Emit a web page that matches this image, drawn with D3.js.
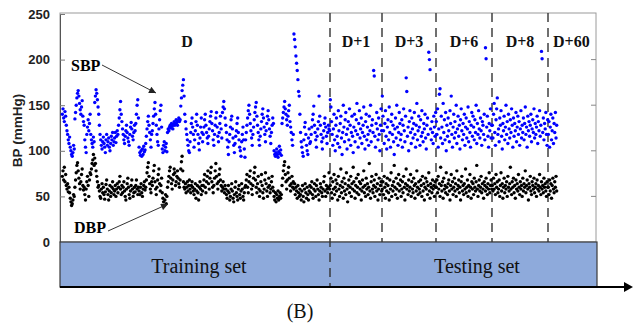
<!DOCTYPE html>
<html>
<head>
<meta charset="utf-8">
<script src="https://cdn.jsdelivr.net/npm/d3@7/dist/d3.min.js"></script>
<style>
  body { margin: 0; background: #fff; }
  svg { display: block; }
</style>
</head>
<body>
<div id="chart"></div>
<script>
// recording sessions (training = D, testing = the rest)
const sessions = ["D", "D+1", "D+3", "D+6", "D+8", "D+60"];
const yTicks = [0, 50, 100, 150, 200, 250];

// systolic BP per session, mmHg
const sbpD = [140,146,136,132,143,138,
  128,122,118,112,108,115,104,100,96,94,98,106,102,
  135,142,150,158,163,166,160,152,145,140,148,155,138,132,128,
  112,104,98,118,126,134,122,130,140,
  118,112,108,104,115,110,
  153,160,167,163,156,148,
  140,128,118,112,106,102,110,115,108,104,98,112,118,106,110,114,104,100,108,116,112,120,106,110,
  114,120,109,116,122,118,
  128,136,145,154,140,132,
  124,118,112,108,116,122,128,120,114,110,106,118,126,131,124,116,112,120,128,122,
  130,140,150,156,136,
  104,98,95,100,94,102,96,105,99,101,
  108,116,124,132,138,128,120,112,104,118,
  122,130,138,146,153,140,128,118,110,106,124,134,144,150,126,
  102,98,106,110,100,104,108,99,
  120,124,122,126,128,125,130,127,124,129,132,128,130,134,131,128,133,136,132,134,
  149,158,166,172,178,160,
  140,132,124,118,112,106,100,98,110,120,130,136,126,118,
  104,112,122,132,140,128,118,108,101,114,126,136,120,
  110,118,126,134,140,128,120,114,108,116,124,132,138,143,130,122,112,106,118,128,136,142,126,116,110,120,130,138,124,114,
  142,148,154,146,136,
  128,120,112,104,96,110,118,126,134,138,124,114,106,98,108,116,122,130,136,120,112,104,100,94,110,118,126,112,102,93,
  112,120,128,136,144,150,140,130,122,114,106,118,126,134,142,148,153,138,128,120,112,106,116,124,132,140,146,136,126,118,110,122,130,138,144,134,124,116,108,120,128,136,130,
  100,96,94,98,102,96,93,99,105,97,101,95,
  130,136,142,148,154,146,140,134,128,138,144,150,132,126,120,112,106,118,
  228,222,214,204,196,188,178,165,160,140,
  120,110,104,98,94,112,126,131,118,106,100,96,114,124,108,
  110,118,126,134,140,149,128,120,112,104,116,124,132,160,138,128,118,110,102,114,122,130,136,126,116,108,120,128,124,122];
const sbpD1 = [156,148,132,118,106,124,140,112,100,128,
  136,116,108,144,122,104,130,138,114,96,
  120,150,126,110,134,142,118,102,124,132,
  112,146,128,106,120,138,116,98,126,140,
  110,122,134,152,118,104,130,144,114,124,
  136,108,120,128,148,116,102,132,140,112,
  126,118,106,138,122,150,110,128,134,120,
  188,182,116,104,130,142,124,112,136,118,
  100,128,146,122];
const sbpD3 = [160,138,122,108,130,144,116,102,126,134,
  112,148,120,104,132,140,118,128,110,96,
  124,136,114,150,126,106,120,142,130,112,
  118,134,104,128,146,122,110,138,180,165,
  116,126,100,132,144,120,108,136,124,114,
  130,142,118,104,128,152,112,122,138,126,
  106,134,116,144,120,110,130,124,140,114,
  102,128,136,118,208,200,189,124,112,132,
  120,108,138,126,116,142];
const sbpD6 = [132,118,146,104,124,162,168,114,138,126,
  108,152,120,134,112,142,100,128,116,136,
  122,110,144,130,160,118,104,126,140,114,
  132,120,150,108,124,138,116,128,102,134,
  146,122,112,130,118,140,106,126,136,114,
  124,148,110,132,120,104,128,142,116,138,
  126,112,134,120,150,108,130,118,144,124,
  114,136,122,106,132,128,118,140,112,213,
  201,126,138,116,104,130,122,146,114,128];
const sbpD8 = [128,114,140,152,120,106,134,146,158,118,
  124,110,136,128,144,116,102,130,122,138,
  112,126,150,118,132,108,140,124,114,134,
  120,146,128,104,136,116,130,122,142,110,
  126,138,118,132,106,124,144,114,128,120,
  136,112,130,148,118,126,104,138,122,132,
  116,128,140,110,124,134,120,146,114,130,
  118,126,138,108,132,122,144,116,128,209,
  201,120,136,112,130,124,142,118,106,134];
const sbpD60 = [118,132,104,126,140,112,122,136,108,130,120,142,114,128];

// diastolic BP per session, mmHg
const dbpD = [72,78,68,82,66,74,
  62,58,64,55,60,54,48,44,40,42,46,52,50,
  60,68,76,84,87,78,70,64,58,66,74,80,62,57,60,
  52,46,58,66,72,62,50,68,76,
  74,80,86,90,96,84,
  92,86,78,72,66,60,
  62,56,50,48,58,64,54,60,52,47,55,63,68,58,52,46,56,62,50,54,60,66,58,52,
  56,62,50,58,64,54,
  60,66,72,58,52,62,
  54,60,66,56,50,46,58,64,70,60,52,48,56,62,68,58,50,54,60,55,
  62,68,58,52,60,
  56,52,60,64,54,50,58,62,66,57,
  60,68,76,82,87,72,64,58,54,66,
  62,70,78,84,66,58,52,60,68,74,80,64,56,62,70,
  54,48,44,40,46,52,42,50,
  60,66,72,78,82,70,64,58,68,74,80,76,62,66,72,78,70,64,60,68,
  80,88,94,78,66,60,
  58,64,54,60,66,56,62,68,58,54,62,66,60,56,
  52,58,64,48,56,62,54,46,60,66,58,52,62,
  56,62,68,74,60,54,66,72,78,64,58,70,76,82,66,60,54,62,70,78,86,72,64,58,66,74,80,68,62,56,
  60,66,58,54,62,
  58,52,48,56,62,54,46,50,58,64,56,48,44,52,60,66,54,50,46,58,62,52,48,56,64,58,50,46,54,60,
  62,68,74,60,54,66,72,78,64,58,52,62,70,76,82,68,60,54,64,72,58,50,56,66,74,62,54,48,58,68,76,64,56,50,60,70,62,54,58,66,72,60,56,
  50,46,54,44,52,48,56,46,50,54,48,52,
  62,70,78,84,88,74,66,58,68,76,82,70,62,56,64,72,60,66,
  58,64,52,60,56,48,62,54,50,58,
  52,46,56,62,50,44,58,64,54,48,60,52,46,56,62,
  54,60,66,52,48,58,64,56,50,62,68,58,52,46,56,64,60,54,50,58,66,72,56,50,62,58,54,60,76,58];
const dbpD1 = [62,70,54,48,66,58,74,52,60,68,
  56,64,46,72,58,50,62,80,54,66,
  60,48,70,56,64,52,76,58,44,62,
  68,54,60,72,50,64,58,82,66,56,
  48,62,70,54,60,74,52,66,58,64,
  46,56,68,60,78,54,62,50,70,58,
  64,52,60,86,56,48,66,72,58,54,
  62,68,50,60,74,56,64,46,58,70,
  52,62,66,56];
const dbpD3 = [58,66,52,72,60,48,64,56,70,62,
  54,46,68,58,76,50,62,56,66,84,
  60,52,70,58,48,64,74,56,62,68,
  50,58,66,54,72,60,46,64,80,58,
  62,52,68,56,60,74,50,66,58,54,
  70,62,48,64,56,78,60,52,66,58,
  54,68,62,50,72,56,64,46,60,70,
  58,66,52,62,76,56,48,64,60,54,
  68,58,62,50,66,60];
const dbpD6 = [60,68,54,72,58,64,50,82,62,56,
  66,48,70,58,62,54,76,60,52,64,
  68,56,46,62,74,58,66,52,60,70,
  56,64,50,78,58,62,68,54,60,46,
  66,72,56,62,52,64,58,80,54,60,
  68,50,62,56,74,60,48,66,58,64,
  52,70,60,56,66,84,58,50,62,68,
  56,60,72,54,64,58,48,66,62,56,
  70,60,52,64,58,76,54,62,68,58];
const dbpD8 = [62,56,70,58,64,52,74,60,66,54,
  58,68,50,62,76,56,64,48,60,70,
  54,62,58,66,50,72,60,56,64,82,
  58,52,66,60,70,54,62,48,68,58,
  64,56,74,60,52,66,58,62,50,70,
  56,64,60,78,54,62,68,58,46,64,
  60,72,56,52,66,62,58,70,54,60,
  64,50,68,58,62,56,74,60,52,66,
  58,62,54,70,60,64,56,50,66,60];
const dbpD60 = [60,52,68,56,64,48,62,70,58,54,66,60,72,56];

const sbpSessions = [sbpD, sbpD1, sbpD3, sbpD6, sbpD8, sbpD60];
const dbpSessions = [dbpD, dbpD1, dbpD3, dbpD6, dbpD8, dbpD60];

let width = 634, height = 324;
let plot = {left: 60, right: 596, top: 13, bottom: 242};
let band = {top: 242, bottom: 287, right: 597};

let svg = d3.select("#chart")
    .append("svg")
    .attr("width", width)
    .attr("height", height)
    .style("font-family", "Liberation Sans, Arial, sans-serif");

// cumulative sample index where each session starts
let bounds = [0];
sbpSessions.forEach(s => bounds.push(bounds[bounds.length - 1] + s.length));

// piecewise x scale: each session gets its own stretch of the axis
let x = d3.scaleLinear()
    .domain(bounds)
    .range([62, 330, 382, 436, 492, 548, 557]);

let y = d3.scaleLinear()
    .domain([0, 250])
    .range([plot.bottom, plot.top + 1]);

// frame
svg.append("rect")
    .attr("x", plot.left)
    .attr("y", plot.top)
    .attr("width", plot.right - plot.left)
    .attr("height", plot.bottom - plot.top)
    .attr("fill", "none")
    .attr("stroke", "#9a9a9a")
    .attr("stroke-width", 1);

// left axis labels + inward ticks
let yAxis = svg.append("g")
    .attr("transform", `translate(${plot.left}, 0)`)
    .call(d3.axisLeft(y).tickValues(yTicks).tickSize(-5).tickPadding(10));
yAxis.select(".domain").attr("stroke", "#555");
yAxis.selectAll("line").attr("stroke", "#777");
yAxis.selectAll("text")
    .style("font-size", "13px")
    .style("font-weight", "bold")
    .attr("fill", "#222");

// right side inward ticks
svg.append("g")
    .selectAll("line")
    .data(yTicks.slice(1, -1))
    .enter()
    .append("line")
    .attr("x1", plot.right)
    .attr("x2", plot.right - 5)
    .attr("y1", d => y(d))
    .attr("y2", d => y(d))
    .attr("stroke", "#888");

svg.append("text")
    .attr("transform", `translate(22, ${(plot.top + plot.bottom) / 2 + 3}) rotate(-90)`)
    .style("text-anchor", "middle")
    .style("font-size", "13.5px")
    .style("font-weight", "bold")
    .attr("fill", "#222")
    .text("BP (mmHg)");

// training / testing band
svg.append("rect")
    .attr("x", plot.left)
    .attr("y", band.top)
    .attr("width", band.right - plot.left)
    .attr("height", band.bottom - band.top)
    .attr("fill", "#8eaadb")
    .attr("stroke", "#3a3a3a")
    .attr("stroke-width", 1.2);

// session separators
svg.append("g")
    .selectAll("line")
    .data(bounds.slice(1, -1))
    .enter()
    .append("line")
    .attr("x1", d => x(d))
    .attr("x2", d => x(d))
    .attr("y1", plot.top)
    .attr("y2", (d, i) => i == 0 ? band.bottom : plot.bottom)
    .attr("stroke", "#333")
    .attr("stroke-width", 1.4)
    .attr("stroke-dasharray", "9,6");

// session titles
svg.append("g")
    .selectAll("text")
    .data(sessions)
    .enter()
    .append("text")
    .attr("x", (d, i) => i == sessions.length - 1 ? x(bounds[i]) + 5 :
        (x(bounds[i]) + x(bounds[i + 1])) / 2 - (i == 0 ? 9 : 0))
    .attr("y", 47)
    .style("text-anchor", (d, i) => i == sessions.length - 1 ? "start" : "middle")
    .style("font-family", "Liberation Serif, Times New Roman, serif")
    .style("font-weight", "bold")
    .style("font-size", "16px")
    .attr("fill", "#111")
    .text(d => d);

// dots
function drawSeries(groups, color) {
    let pts = [];
    groups.forEach((g, k) => g.forEach((v, i) => pts.push({i: bounds[k] + i + 0.5, v: v})));
    svg.append("g")
        .selectAll("circle")
        .data(pts)
        .enter()
        .append("circle")
        .attr("cx", d => x(d.i))
        .attr("cy", d => y(d.v))
        .attr("r", 1.7)
        .attr("fill", color);
}
drawSeries(dbpSessions, "#000");
drawSeries(sbpSessions, "#0000ff");

// annotations with arrows
svg.append("defs").append("marker")
    .attr("id", "head")
    .attr("viewBox", "0 0 10 10")
    .attr("refX", 10)
    .attr("refY", 5)
    .attr("markerWidth", 9)
    .attr("markerHeight", 7)
    .attr("markerUnits", "userSpaceOnUse")
    .attr("orient", "auto")
    .append("path")
    .attr("d", "M0,0L10,5L0,10z")
    .attr("fill", "#222");

let serif = "Liberation Serif, Times New Roman, serif";
svg.append("text").attr("x", 71).attr("y", 71)
    .style("font-family", serif).style("font-weight", "bold").style("font-size", "16px")
    .text("SBP");
svg.append("line")
    .attr("x1", 102).attr("y1", 65).attr("x2", 156).attr("y2", 93)
    .attr("stroke", "#333").attr("stroke-width", 1)
    .attr("marker-end", "url(#head)");

svg.append("text").attr("x", 74).attr("y", 233)
    .style("font-family", serif).style("font-weight", "bold").style("font-size", "16px")
    .text("DBP");
svg.append("line")
    .attr("x1", 108).attr("y1", 231).attr("x2", 168).attr("y2", 204)
    .attr("stroke", "#333").attr("stroke-width", 1)
    .attr("marker-end", "url(#head)");

// band captions
svg.append("text")
    .attr("x", 199).attr("y", 273)
    .style("text-anchor", "middle")
    .style("font-family", serif).style("font-size", "20px")
    .attr("fill", "#111")
    .text("Training set");
svg.append("text")
    .attr("x", 477).attr("y", 273)
    .style("text-anchor", "middle")
    .style("font-family", serif).style("font-size", "20px")
    .attr("fill", "#111")
    .text("Testing set");

// bottom time arrow
svg.append("line")
    .attr("x1", plot.left).attr("y1", band.bottom)
    .attr("x2", 624).attr("y2", band.bottom)
    .attr("stroke", "#000").attr("stroke-width", 2);
svg.append("path")
    .attr("d", `M624,${band.bottom - 5}L633,${band.bottom}L624,${band.bottom + 5}z`)
    .attr("fill", "#000");

svg.append("text")
    .attr("x", 300).attr("y", 318)
    .style("text-anchor", "middle")
    .style("font-family", serif).style("font-size", "20px")
    .attr("fill", "#111")
    .text("(B)");
</script>
</body>
</html>
